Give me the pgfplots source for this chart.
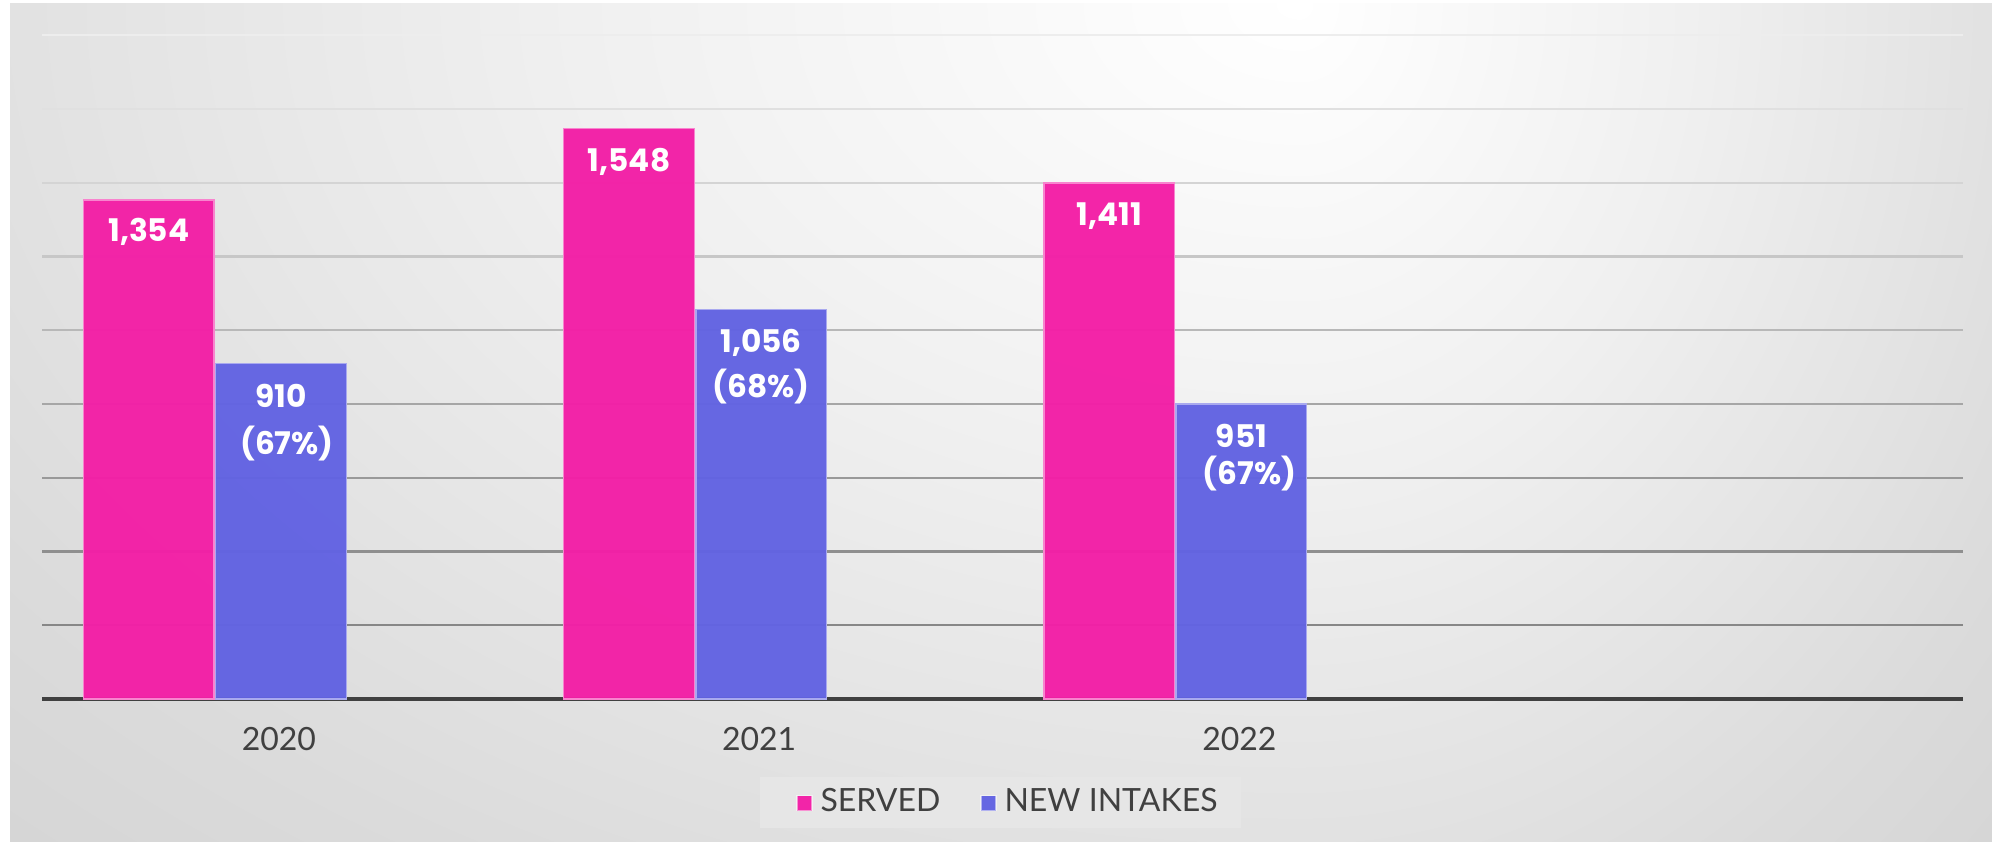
\documentclass[border=0pt]{standalone}
\usepackage{pgfplots}
\pgfplotsset{compat=1.18}
\usepackage{fontspec}
\setmainfont{Lato}
\newfontfamily\lblfont{Poppins}[Numbers=Monospaced]
\definecolor{served}{RGB}{243,31,166}
\definecolor{intake}{RGB}{98,99,226}
\definecolor{gone}{RGB}{240,240,240}
\definecolor{gtwo}{RGB}{219,219,219}
\definecolor{gthree}{RGB}{207,207,207}
\definecolor{gfour}{RGB}{197,197,197}
\definecolor{gfive}{RGB}{190,190,190}
\definecolor{legbg}{RGB}{230,230,230}
\definecolor{txt}{RGB}{64,64,64}
\pgfdeclareradialshading{bgC}{\pgfpoint{0bp}{0bp}}{color(0bp)=(white); color(14bp)=(gone); color(30bp)=(gtwo); color(42.5bp)=(gthree); color(52.5bp)=(gfour); color(70.5bp)=(gfive)}
\tikzset{lbl/.style={text=white, font=\lblfont\bfseries\fontsize{7.8}{9}\selectfont, inner sep=0pt, anchor=center}}
\begin{document}
\begin{tikzpicture}
\fill[white] (0pt,0pt) rectangle (498pt,210.5pt);
\begin{scope}
\clip (2.5pt,0pt) rectangle (325.3pt,209.6pt);
\shade[shading=bgC] (2.5pt,0pt) rectangle (647.5pt,419.2pt);
\end{scope}
\begin{scope}
\clip (325pt,0pt) rectangle (498pt,209.6pt);
\shade[shading=bgC] (152pt,0pt) rectangle (498pt,419.2pt);
\end{scope}
\fill[legbg] (190pt,3.5pt) rectangle (310.25pt,16.25pt);
\begin{axis}[
  at={(10.5pt,35.75pt)}, anchor=south west,
  width=480.25pt, height=165.9pt, scale only axis,
  xmin=-0.36, xmax=3.64, ymin=0, ymax=1800,
  separate axis lines,
  axis x line*=bottom, axis y line=none,
  x axis line style={draw=txt, line width=1.1pt, -},
  xtick={0,1,2}, xticklabels={2020,2021,2022},
  ytick=\empty, major tick length=0pt,
  xticklabel style={anchor=center, yshift=-10.1pt, xshift=16pt, text=txt, font=\fontsize{8}{9.6}\selectfont},
  ybar, bar width=0.272,
  clip=false,
  legend columns=2,
  legend style={at={(axis description cs:0.5044,-0.157)}, anchor=center, fill=none, draw=none,
     font=\fontsize{8}{9.6}\selectfont, text=txt,
     /tikz/every even column/.append style={column sep=8pt}},
  legend image code/.code={\draw[#1, draw=white, draw opacity=0.5, line width=0.3pt] (0pt,-1.875pt) rectangle (3.75pt,1.875pt);},
]
\draw[black!47, line width=0.55pt] (axis cs:-0.36,200) -- (axis cs:3.64,200);
\draw[black!44, line width=0.55pt] (axis cs:-0.36,400) -- (axis cs:3.64,400);
\draw[black!40, line width=0.55pt] (axis cs:-0.36,600) -- (axis cs:3.64,600);
\draw[black!35, line width=0.55pt] (axis cs:-0.36,800) -- (axis cs:3.64,800);
\draw[black!28, line width=0.55pt] (axis cs:-0.36,1000) -- (axis cs:3.64,1000);
\draw[black!22, line width=0.55pt] (axis cs:-0.36,1200) -- (axis cs:3.64,1200);
\draw[black!17, line width=0.55pt] (axis cs:-0.36,1400) -- (axis cs:3.64,1400);
\draw[black!12, line width=0.55pt] (axis cs:-0.36,1600) -- (axis cs:3.64,1600);
\draw[black!7, line width=0.55pt] (axis cs:-0.36,1800) -- (axis cs:3.64,1800);
\addplot[fill=served, fill opacity=0.97, draw=served!55!white, line width=0.35pt, bar shift=-0.1375]
  coordinates {(0,1354) (1,1548) (2,1400)};
\addplot[fill=intake, fill opacity=0.97, draw=intake!55!white, line width=0.35pt, bar shift=0.1375]
  coordinates {(0,910) (1,1056) (2,800)};
\legend{SERVED, NEW INTAKES}
\node[lbl] at (axis cs:-0.1375,1354) [yshift=-8pt] {1,354};
\node[lbl] at (axis cs:0.8625,1548) [yshift=-8.5pt] {1,548};
\node[lbl] at (axis cs:1.8625,1400) [yshift=-8.25pt] {1,411};
\node[lbl] at (axis cs:0.1375,910) [yshift=-8pt] {910};
\node[lbl] at (axis cs:0.1375,910) [yshift=-20pt, xshift=1.5pt] {(67\%)};
\node[lbl] at (axis cs:1.1375,1056) [yshift=-8.25pt] {1,056};
\node[lbl] at (axis cs:1.1375,1056) [yshift=-19.25pt] {(68\%)};
\node[lbl] at (axis cs:2.1375,800) [yshift=-8pt] {951};
\node[lbl] at (axis cs:2.1375,800) [yshift=-17.25pt, xshift=2pt] {(67\%)};
\end{axis}
\end{tikzpicture}
\end{document}
